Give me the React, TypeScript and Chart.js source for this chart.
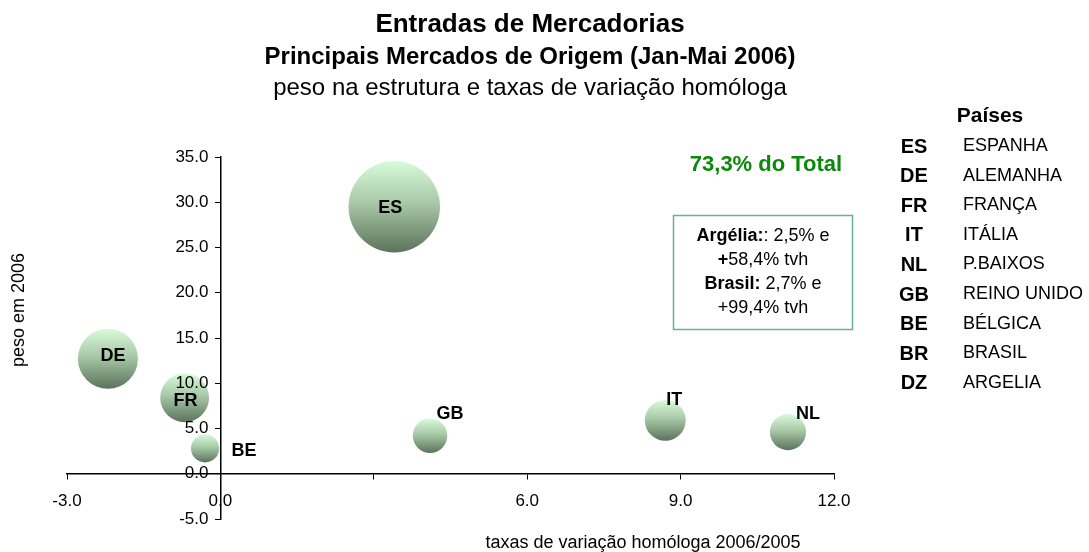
import React, { useEffect, useRef } from 'react';
import { Chart, registerables } from 'chart.js';

Chart.register(...registerables);

// ---- data ----
const codes = ['ES', 'DE', 'FR', 'IT', 'NL', 'GB', 'BE'];
const growth = [3.4, -2.2, -0.7, 8.7, 11.1, 4.1, -0.3]; // taxa de variação homóloga 2006/2005
const weight = [29.5, 12.7, 8.4, 5.9, 4.6, 4.2, 2.8]; // peso em 2006

const xTickValues = [-3, 0, 3, 6, 9, 12];
const xTickLabels = ['-3.0', '0.0', '', '6.0', '9.0', '12.0'];
const yTickValues = [-5, 0, 5, 10, 15, 20, 25, 30, 35];
const yTickLabels = ['-5.0', '0.0', '5.0', '10.0', '15.0', '20.0', '25.0', '30.0', '35.0'];

const titleLine1 = 'Entradas de Mercadorias';
const titleLine2 = 'Principais Mercados de Origem (Jan-Mai 2006)';
const titleLine3 = 'peso na estrutura e taxas de variação homóloga';
const xAxisTitle = 'taxas de variação homóloga 2006/2005';
const yAxisTitle = 'peso em 2006';
const totalNote = '73,3% do Total';

const legendTitle = 'Países';
const legendCodes = ['ES', 'DE', 'FR', 'IT', 'NL', 'GB', 'BE', 'BR', 'DZ'];
const legendNames = ['ESPANHA', 'ALEMANHA', 'FRANÇA', 'ITÁLIA', 'P.BAIXOS', 'REINO UNIDO', 'BÉLGICA', 'BRASIL', 'ARGELIA'];

const boxLines: { t: string; b: boolean }[][] = [
  [{ t: 'Argélia:', b: true }, { t: ': 2,5% e', b: false }],
  [{ t: '+', b: true }, { t: '58,4% tvh', b: false }],
  [{ t: 'Brasil:', b: true }, { t: ' 2,7% e', b: false }],
  [{ t: '+99,4% tvh', b: false }],
];

// ---- layout / style (not data) ----
const FONT = "'Liberation Sans', Arial, sans-serif";
const TICK_FONT = "'Liberation Sans Narrow', 'Arial Narrow', 'Liberation Sans', sans-serif";
const SIZE_SCALE = 8.42;
const labelOffsets: Record<string, [number, number]> = {
  ES: [-4, 1], DE: [5, -3], FR: [1, 3], IT: [9, -20], NL: [20, -18], GB: [20, -22], BE: [39, 3],
};

const bubbleRadius = (w: number) => SIZE_SCALE * Math.sqrt(w);

const decorPlugin = {
  id: 'decor',
  afterDraw(chart: any) {
    const c = chart.ctx as CanvasRenderingContext2D;
    c.save();
    c.fillStyle = '#000';
    c.textAlign = 'center';
    c.textBaseline = 'middle';
    // titles
    c.font = `bold 26px ${FONT}`;
    c.fillText(titleLine1, 530, 25);
    c.font = `bold 24px ${FONT}`;
    c.fillText(titleLine2, 530, 57);
    c.font = `24px ${FONT}`;
    c.fillText(titleLine3, 530, 88);

    // axis titles
    c.font = `18px ${FONT}`;
    c.fillText(xAxisTitle, 643, 543);
    c.save();
    c.translate(19, 310);
    c.rotate(-Math.PI / 2);
    c.fillText(yAxisTitle, 0, 0);
    c.restore();

    // total note
    c.fillStyle = '#0a8a0a';
    c.font = `bold 22px ${FONT}`;
    c.fillText(totalNote, 766, 165);

    // annotation box
    c.strokeStyle = '#66b48c';
    c.lineWidth = 1.5;
    c.strokeRect(673.5, 215.5, 179, 114);
    c.fillStyle = '#000';
    const ys = [236, 260, 284, 308];
    boxLines.forEach((parts, i) => {
      let total = 0;
      parts.forEach((p) => {
        c.font = `${p.b ? 'bold ' : ''}18px ${FONT}`;
        total += c.measureText(p.t).width;
      });
      let x = 763 - total / 2;
      c.textAlign = 'left';
      parts.forEach((p) => {
        c.font = `${p.b ? 'bold ' : ''}18px ${FONT}`;
        c.fillText(p.t, x, ys[i]);
        x += c.measureText(p.t).width;
      });
    });

    // legend table
    c.textAlign = 'center';
    c.font = `bold 21px ${FONT}`;
    c.fillText(legendTitle, 990, 116);
    legendCodes.forEach((code, i) => {
      const y = 147 + i * 29.6;
      c.textAlign = 'center';
      c.font = `bold 20px ${FONT}`;
      c.fillText(code, 914, y);
      c.textAlign = 'left';
      c.font = `18px ${FONT}`;
      c.fillText(legendNames[i], 963, y - 1);
    });
    c.restore();
  },
  afterDatasetsDraw(chart: any) {
    const c = chart.ctx as CanvasRenderingContext2D;
    const meta = chart.getDatasetMeta(0);
    c.save();
    c.fillStyle = '#000';
    c.font = `bold 18px ${FONT}`;
    c.textAlign = 'center';
    c.textBaseline = 'middle';
    meta.data.forEach((el: any, i: number) => {
      const off = labelOffsets[codes[i]] || [0, 0];
      c.fillText(codes[i], el.x + off[0], el.y + off[1]);
    });
    c.restore();
  },
};

export default function App() {
  const ref = useRef<HTMLCanvasElement | null>(null);
  useEffect(() => {
    if (!ref.current) return;
    const chart = new Chart(ref.current, {
      type: 'bubble',
      data: {
        datasets: [
          {
            label: 'Mercados',
            data: codes.map((_, i) => ({ x: growth[i], y: weight[i] })),
            radius: (ctx: any) => (ctx.raw ? bubbleRadius(ctx.raw.y) : 5),
            borderWidth: 0,
            backgroundColor: (ctx: any) => {
              const chart = ctx.chart;
              if (!chart.chartArea || ctx.type !== 'data' || !chart.scales.y) return '#a6c6a6';
              const y = chart.scales.y.getPixelForValue(ctx.raw.y);
              const r = bubbleRadius(ctx.raw.y);
              const g = chart.ctx.createLinearGradient(0, y - r, 0, y + r);
              g.addColorStop(0, '#d8fbd8');
              g.addColorStop(0.45, '#a9c9a9');
              g.addColorStop(1, '#5b735b');
              return g;
            },
          } as any,
        ],
      },
      plugins: [decorPlugin],
      options: {
        animation: false,
        responsive: false,
        events: [],
        layout: { autoPadding: false, padding: { left: 67, right: 255, top: 157, bottom: 33 } },
        plugins: {
          legend: { display: false },
          title: { display: false },
          tooltip: { enabled: false },
        },
        scales: {
          x: {
            type: 'linear',
            position: { y: 0 } as any,
            min: -3,
            max: 12,
            afterBuildTicks: (s: any) => {
              s.ticks = xTickValues.map((v) => ({ value: v }));
            },
            ticks: {
              z: 1,
              autoSkip: false,
              maxRotation: 0,
              padding: 12,
              color: '#000',
              font: { family: TICK_FONT, size: 17 },
              callback: (v: any) => {
                const i = xTickValues.indexOf(Number(v));
                return i >= 0 ? xTickLabels[i] : '';
              },
            },
            grid: { z: 1, drawOnChartArea: false, drawTicks: true, tickLength: 5, color: '#000' },
            border: { z: 1, color: '#000', width: 1.5 },
          },
          y: {
            type: 'linear',
            position: { x: 0 } as any,
            min: -5,
            max: 35,
            afterBuildTicks: (s: any) => {
              s.ticks = yTickValues.map((v) => ({ value: v }));
            },
            ticks: {
              z: 1,
              autoSkip: false,
              padding: 7,
              color: '#000',
              font: { family: TICK_FONT, size: 17 },
              callback: (v: any) => {
                const i = yTickValues.indexOf(Number(v));
                return i >= 0 ? yTickLabels[i] + '\u2002\u2009' : '';
              },
            },
            grid: { z: 1, drawOnChartArea: false, drawTicks: true, tickLength: 5, color: '#000' },
            border: { z: 1, color: '#000', width: 1.5 },
          },
        },
      } as any,
    });
    return () => chart.destroy();
  }, []);
  return (
    <div style={{ position: 'fixed', left: 0, top: 0, width: 1089, height: 552, background: '#fff' }}>
      <canvas ref={ref} width={1089} height={552} style={{ display: 'block' }} />
    </div>
  );
}
